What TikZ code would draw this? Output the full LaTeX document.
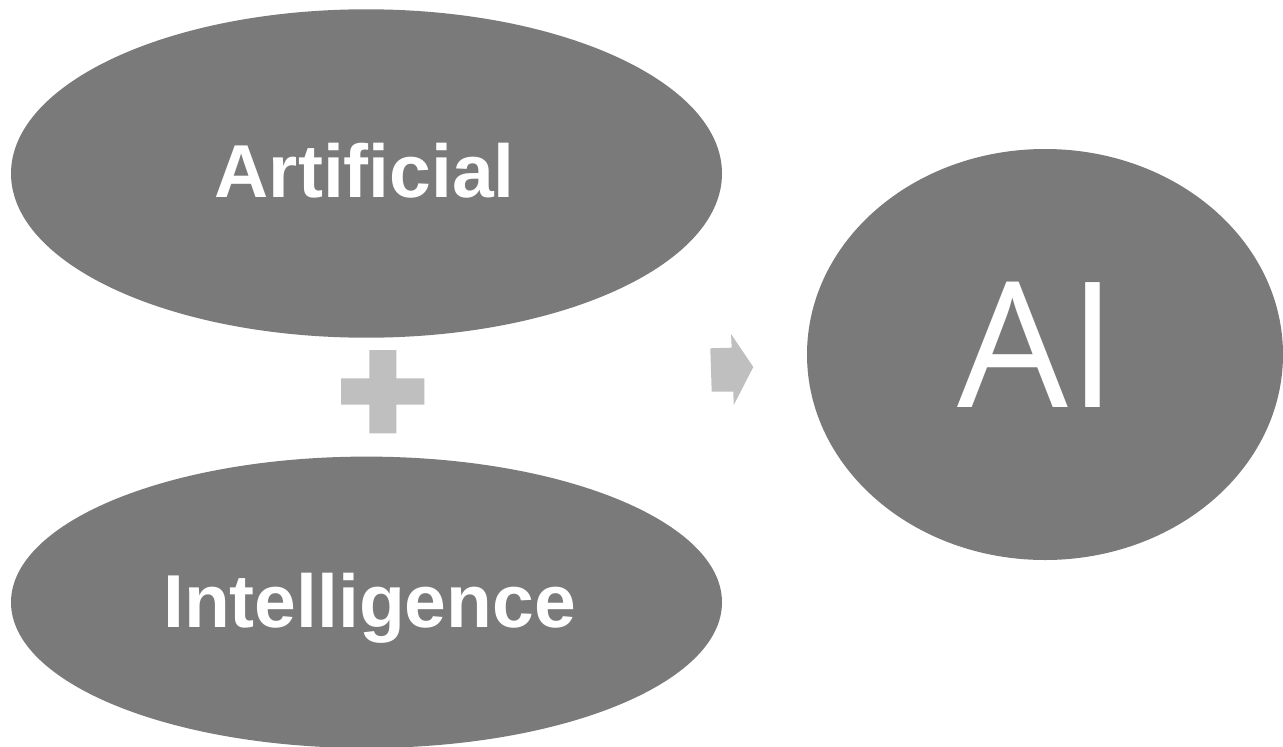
\documentclass[tikz,border=0pt]{standalone}
\usepackage{fontspec}
\setmainfont{Liberation Sans}
\newfontfamily\aifont{Open Sans}
\usetikzlibrary{shapes.geometric}
\definecolor{blobgray}{HTML}{7A7A7A}
\definecolor{signgray}{HTML}{BFBFBF}
\tikzset{
  blob/.style={ellipse, fill=blobgray, draw=none, inner sep=0pt},
  lbl/.style={text=white, anchor=base, inner sep=0pt, font=\fontsize{75}{90}\selectfont\bfseries},
  ailbl/.style={text=white, anchor=base, inner sep=0pt, font=\fontsize{175}{200}\selectfont\aifont},
  sign/.style={fill=signgray, draw=none}
}
\begin{document}
\begin{tikzpicture}[x=1pt,y=-1pt]
\useasboundingbox (0,0) rectangle (1283,747);
\node[blob, minimum width=711pt, minimum height=328.4pt] (art) at (366.5,173.5) {};
\node[blob, minimum width=711pt, minimum height=291.4pt] (int) at (366.5,602.3) {};
\node[blob, minimum width=476pt, minimum height=411pt] (ai) at (1045,354.5) {};
\node[lbl] (arttxt) at (364.8,197) {Artificial};
\node[lbl] (inttxt) at (369.5,627) {Intelligence};
\node[ailbl] (aitxt) at (1037,407.7) {AI};
% plus sign
\fill[sign] (369.3,350) -- (396.3,350) -- (396.3,378.3) -- (424.3,378.3) -- (424.3,404.7)
  -- (396.3,404.7) -- (396.3,433.3) -- (369.3,433.3) -- (369.3,404.7) -- (341,404.7)
  -- (341,378.3) -- (369.3,378.3) -- cycle;
% arrow
\fill[sign] (710.3,348.3) -- (731.7,347.7) -- (731,334) -- (753.3,367) -- (733.7,405)
  -- (733.3,391.7) -- (711.7,391.7) -- cycle;
\end{tikzpicture}
\end{document}
